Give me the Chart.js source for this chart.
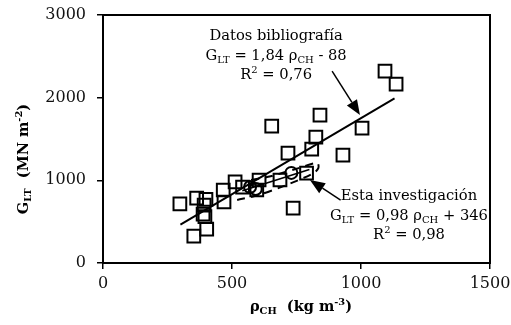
<!DOCTYPE html>
<html>
<head>
<meta charset="utf-8">
<script src="https://cdn.jsdelivr.net/npm/chart.js@4.4.1/dist/chart.umd.min.js"></script>
<style>
  html, body { margin: 0; padding: 0; background: #fff; }
  #wrap { width: 511px; height: 325px; }
</style>
</head>
<body>
<div id="wrap"><canvas id="chart" width="511" height="325"></canvas></div>
<script>
// --- data ---
const bibX = [1093, 1136, 841, 1004, 654, 825, 809, 717, 930, 737, 789, 686, 605, 512, 541, 596, 466, 469, 363, 399, 298, 392, 388, 395, 402, 352];
const bibY = [2322, 2165, 1790, 1632, 1657, 1524, 1378, 1330, 1306, 665, 1088, 1004, 1004, 980, 919, 883, 883, 738, 786, 770, 715, 700, 590, 560, 410, 326];

const ownX = [570, 592, 730];
const ownY = [920, 895, 1090];

// regression line ends (Datos bibliografía)
const bibLineX = [300, 1130];
const bibLineY = [464, 1991];

// regression line ends (Esta investigación)
const ownLineX = [540, 800];
const ownLineY = [875, 1130];

// dashed band round own fit: lower edge left->right, then upper edge right->left
const bandX = [520, 600, 700, 815, 835, 830, 750, 650, 560];
const bandY = [762, 820, 930, 1085, 1150, 1210, 1140, 1050, 995];

const xTicks = [0, 500, 1000, 1500];
const yTicks = [0, 1000, 2000, 3000];

// annotation arrows, [fromX, fromY, toX, toY] in data units
const arrows = [
    [888, 2322, 996, 1790],
    [921, 762, 802, 1004]
];

const serif = '"DejaVu Serif", serif';

// text blocks: anchor in data units, lines are lists of [text, 'n'|'sub'|'sup']
const labelBlocks = [
    { x: 671, y: 2697, lines: [
        [['Datos bibliografía', 'n']],
        [['G', 'n'], ['LT', 'sub'], [' = 1,84 ρ', 'n'], ['CH', 'sub'], [' - 88', 'n']],
        [['R', 'n'], ['2', 'sup'], [' = 0,76', 'n']]
    ]},
    { x: 1186, y: 762, lines: [
        [['Esta investigación', 'n']],
        [['G', 'n'], ['LT', 'sub'], [' = 0,98 ρ', 'n'], ['CH', 'sub'], [' + 346', 'n']],
        [['R', 'n'], ['2', 'sup'], [' = 0,98', 'n']]
    ]}
];

// --- helpers ---
function richWidth(ctx, parts, size, weight) {
    let w = 0;
    parts.forEach(p => {
        const s = p[1] === 'n' ? size : size * 0.68;
        ctx.font = `${weight} ${s}px ${serif}`;
        w += ctx.measureText(p[0]).width;
    });
    return w;
}

function drawRich(ctx, parts, cx, base, size, weight) {
    let x = cx - richWidth(ctx, parts, size, weight) / 2;
    ctx.textAlign = 'left';
    ctx.textBaseline = 'alphabetic';
    parts.forEach(p => {
        let s = size, dy = 0;
        if (p[1] === 'sub') { s = size * 0.68; dy = size * 0.22; }
        if (p[1] === 'sup') { s = size * 0.68; dy = -size * 0.38; }
        ctx.font = `${weight} ${s}px ${serif}`;
        ctx.fillText(p[0], x, base + dy);
        x += ctx.measureText(p[0]).width;
    });
}

const decorations = {
    id: 'decorations',
    afterDatasetsDraw(chart) {
        const { ctx, chartArea: a, scales: { x, y } } = chart;
        ctx.save();
        // box round the plot
        ctx.strokeStyle = '#000';
        ctx.lineWidth = 2;
        ctx.strokeRect(a.left, a.top, a.right - a.left, a.bottom - a.top);

        // arrows
        ctx.fillStyle = '#000';
        ctx.lineWidth = 1.5;
        arrows.forEach(ar => {
            const x0 = x.getPixelForValue(ar[0]), y0 = y.getPixelForValue(ar[1]);
            const x1 = x.getPixelForValue(ar[2]), y1 = y.getPixelForValue(ar[3]);
            const ang = Math.atan2(y1 - y0, x1 - x0);
            const hl = 15, hw = 6;
            const bx = x1 - hl * Math.cos(ang), by = y1 - hl * Math.sin(ang);
            ctx.beginPath();
            ctx.moveTo(x0, y0);
            ctx.lineTo(bx, by);
            ctx.stroke();
            ctx.beginPath();
            ctx.moveTo(x1, y1);
            ctx.lineTo(bx + hw * Math.sin(ang), by - hw * Math.cos(ang));
            ctx.lineTo(bx - hw * Math.sin(ang), by + hw * Math.cos(ang));
            ctx.closePath();
            ctx.fill();
        });

        // text blocks
        ctx.fillStyle = '#000';
        labelBlocks.forEach(b => {
            const cx = x.getPixelForValue(b.x);
            const base = y.getPixelForValue(b.y);
            b.lines.forEach((ln, i) => drawRich(ctx, ln, cx, base + i * 19.5, 14.7, 'normal'));
        });

        // axis titles
        drawRich(ctx, [['ρ', 'n'], ['CH', 'sub'], ['  (kg m', 'n'], ['-3', 'sup'], [')', 'n']],
            301, 311, 14.5, 'bold');
        ctx.translate(28, (a.top + a.bottom) / 2 + 20);
        ctx.rotate(-Math.PI / 2);
        drawRich(ctx, [['G', 'n'], ['LT', 'sub'], ['  (MN m', 'n'], ['-2', 'sup'], [')', 'n']],
            0, 0, 14.5, 'bold');
        ctx.restore();
    }
};

const toPts = (xs, ys) => xs.map((v, i) => ({ x: v, y: ys[i] }));

new Chart(document.getElementById('chart'), {
    type: 'scatter',
    data: {
        datasets: [
            {
                label: 'Datos bibliografía',
                data: toPts(bibX, bibY),
                pointStyle: 'rect',
                pointRadius: 9,
                borderColor: '#000',
                borderWidth: 2,
                backgroundColor: 'rgba(0,0,0,0)'
            },
            {
                label: 'Esta investigación',
                data: toPts(ownX, ownY),
                pointStyle: 'circle',
                pointRadius: 6,
                borderColor: '#000',
                borderWidth: 2,
                backgroundColor: 'rgba(0,0,0,0)'
            },
            {
                label: 'fit bib',
                data: toPts(bibLineX, bibLineY),
                showLine: true,
                pointRadius: 0,
                borderColor: '#000',
                borderWidth: 2
            },
            {
                label: 'fit own',
                data: toPts(ownLineX, ownLineY),
                showLine: true,
                pointRadius: 0,
                borderColor: '#000',
                borderWidth: 1.5
            },
            {
                label: 'band',
                data: toPts(bandX, bandY),
                showLine: true,
                tension: 0.3,
                pointRadius: 0,
                borderColor: '#000',
                borderWidth: 2,
                borderDash: [8, 6]
            }
        ]
    },
    options: {
        responsive: false,
        animation: false,
        layout: { padding: { top: 15, right: 21, left: 0, bottom: 0 } },
        plugins: { legend: { display: false }, tooltip: { enabled: false } },
        scales: {
            x: {
                type: 'linear',
                min: 0, max: 1500,
                afterFit: s => { s.height = 62; s.paddingLeft = 0; s.paddingRight = 0; },
                afterBuildTicks: s => { s.ticks = xTicks.map(v => ({ value: v })); },
                grid: { drawOnChartArea: false, drawTicks: true, tickLength: 6, color: '#000', lineWidth: 1.5 },
                border: { display: true, color: '#000', width: 2 },
                ticks: { color: '#111', padding: 5, font: { family: serif, size: 16 }, callback: v => String(v) }
            },
            y: {
                type: 'linear',
                min: 0, max: 3000,
                afterFit: s => { s.width = 103; s.paddingTop = 0; s.paddingBottom = 0; },
                afterBuildTicks: s => { s.ticks = yTicks.map(v => ({ value: v })); },
                grid: { drawOnChartArea: false, drawTicks: true, tickLength: 6, color: '#000', lineWidth: 1.5 },
                border: { display: true, color: '#000', width: 2 },
                ticks: { color: '#111', padding: 11, font: { family: serif, size: 16 }, callback: v => String(v) }
            }
        }
    },
    plugins: [decorations]
});
</script>
</body>
</html>
